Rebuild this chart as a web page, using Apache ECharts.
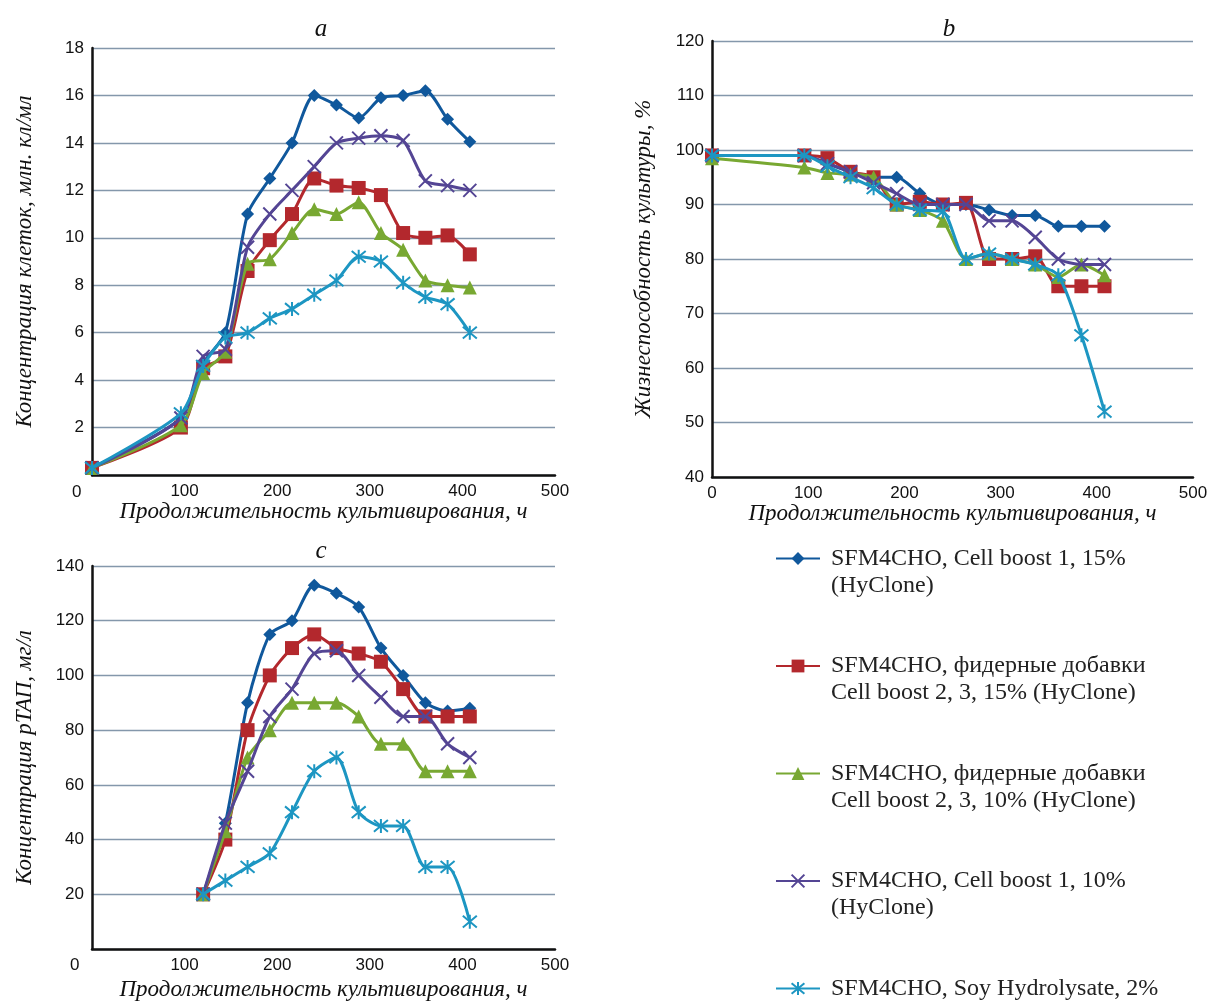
<!DOCTYPE html>
<html>
<head>
<meta charset="utf-8">
<script src="https://cdn.jsdelivr.net/npm/echarts@6/dist/echarts.min.js"></script>
<style>
html,body{margin:0;padding:0;background:#fff}
#chart{width:1219px;height:1003px}
</style>
</head>
<body>
<div id="chart"></div>
<script>
// series names
var names = [
    'SFM4CHO, Cell boost 1, 15%\n(HyClone)',
    'SFM4CHO, фидерные добавки\nCell boost 2, 3, 15% (HyClone)',
    'SFM4CHO, фидерные добавки\nCell boost 2, 3, 10% (HyClone)',
    'SFM4CHO, Cell boost 1, 10%\n(HyClone)',
    'SFM4CHO, Soy Hydrolysate, 2%'
]
var colors = ['#10589c', '#b3282d', '#78a832', '#544594', '#1d96c2']

// hours
var hoursAB = [0, 96, 120, 144, 168, 192, 216, 240, 264, 288, 312, 336, 360, 384, 408]
var hoursC = [120, 144, 168, 192, 216, 240, 264, 288, 312, 336, 360, 384, 408]

// a: cell concentration, mln cells/ml
var cellsBoost1_15 = [0.3, 2.4, 4.7, 6.0, 11.0, 12.5, 14.0, 16.0, 15.6, 15.05, 15.9, 16.0, 16.2, 15.0, 14.05]
var cellsFeed_15 = [0.3, 2.0, 4.5, 5.0, 8.6, 9.9, 11.0, 12.5, 12.2, 12.1, 11.8, 10.2, 10.0, 10.1, 9.3]
var cellsFeed_10 = [0.3, 2.1, 4.3, 5.2, 8.9, 9.1, 10.2, 11.2, 11.0, 11.5, 10.2, 9.5, 8.2, 8.0, 7.9]
var cellsBoost1_10 = [0.3, 2.4, 5.0, 5.3, 9.6, 11.0, 12.0, 13.0, 14.0, 14.2, 14.3, 14.1, 12.4, 12.2, 12.0]
var cellsSoy = [0.3, 2.6, 4.6, 5.8, 6.0, 6.6, 7.0, 7.6, 8.2, 9.2, 9.0, 8.1, 7.5, 7.2, 6.0]

// b: viability, %
var viabBoost1_15 = [99, 99, 97.5, 96, 95, 95, 92, 90, 90, 89, 88, 88, 86, 86, 86]
var viabFeed_15 = [99, 99, 98.5, 96, 95, 90, 90.5, 90, 90.3, 80, 80, 80.5, 75, 75, 75]
var viabFeed_10 = [98.5, 96.8, 95.8, 95.5, 95, 90, 89, 87, 80, 81, 80, 79, 76.7, 79, 77]
var viabBoost1_10 = [99, 99, 97.5, 96, 94, 92, 90, 90, 90, 87, 87, 84, 80, 79, 79]
var viabSoy = [99, 99, 97, 95, 93, 90, 89, 88.7, 80, 81, 80, 79, 77, 66, 52]

// c: rTAP concentration, mg/l
var tapBoost1_15 = [20, 46, 90, 115, 120, 133, 130, 125, 110, 100, 90, 87, 88]
var tapFeed_15 = [20, 40, 80, 100, 110, 115, 110, 108, 105, 95, 85, 85, 85]
var tapFeed_10 = [20, 43, 70, 80, 90, 90, 90, 85, 75, 75, 65, 65, 65]
var tapBoost1_10 = [20, 46, 65, 85, 95, 108, 109, 100, 92, 85, 85, 75, 70]
var tapSoy = [20, 25, 30, 35, 50, 65, 70, 50, 45, 45, 30, 30, 10]

var symbols = [
    'diamond',
    'rect',
    'triangle',
    'path://M0,0L10,10M10,0L0,10',
    'path://M0,0L10,10M10,0L0,10M5,-1L5,11'
]
var symbolSizes = [13, 14, 14, 13, 14]

var serif = '"Liberation Serif", "DejaVu Serif", serif'
var sans = '"Liberation Sans", Arial, sans-serif'

function pairs(xs, ys) {
    return xs.map(function (x, i) { return [x, ys[i]] })
}

function makeSeries(idx, xi, xs, ys) {
    var isCross = idx >= 3
    return {
        name: names[idx],
        type: 'line',
        xAxisIndex: xi,
        yAxisIndex: xi,
        data: pairs(xs, ys),
        smooth: 0.25,
        symbol: symbols[idx],
        symbolSize: symbolSizes[idx],
        showAllSymbol: true,
        lineStyle: { color: colors[idx], width: 3 },
        itemStyle: {
            color: colors[idx],
            borderColor: colors[idx],
            borderWidth: isCross ? 2 : 0
        },
        emphasis: { disabled: true },
        z: 2 + idx
    }
}

function xAxisOf(gi, hideZero, gap) {
    return {
        type: 'value',
        gridIndex: gi,
        min: 0,
        max: 500,
        interval: 100,
        name: 'Продолжительность культивирования, ч',
        nameLocation: 'middle',
        nameGap: gap,
        nameTextStyle: { fontFamily: serif, fontStyle: 'italic', fontSize: 23, color: '#111' },
        axisLine: { onZero: false, lineStyle: { color: '#111', width: 2.5 } },
        axisTick: { show: false },
        splitLine: { show: false },
        axisLabel: {
            fontFamily: sans, fontSize: 17, color: '#111', margin: 8,
            formatter: function (v) { return hideZero && v === 0 ? '' : v }
        }
    }
}

function yAxisOf(gi, min, max, step, name, gap, hideZero) {
    return {
        type: 'value',
        gridIndex: gi,
        min: min,
        max: max,
        interval: step,
        name: name,
        nameLocation: 'middle',
        nameGap: gap,
        nameTextStyle: { fontFamily: serif, fontStyle: 'italic', fontSize: 23, color: '#111' },
        axisLine: { show: true, lineStyle: { color: '#111', width: 2.5 } },
        axisTick: { show: false },
        splitLine: { lineStyle: { color: '#8497ab', width: 1.3 } },
        axisLabel: {
            fontFamily: sans, fontSize: 17, color: '#111', margin: 8,
            formatter: function (v) { return hideZero && v === 0 ? '' : v }
        }
    }
}

var seriesList = []
var cellSets = [cellsBoost1_15, cellsFeed_15, cellsFeed_10, cellsBoost1_10, cellsSoy]
var viabSets = [viabBoost1_15, viabFeed_15, viabFeed_10, viabBoost1_10, viabSoy]
var tapSets = [tapBoost1_15, tapFeed_15, tapFeed_10, tapBoost1_10, tapSoy]
for (var i = 0; i < 5; i++) seriesList.push(makeSeries(i, 0, hoursAB, cellSets[i]))
for (var j = 0; j < 5; j++) seriesList.push(makeSeries(j, 1, hoursAB, viabSets[j]))
for (var k = 0; k < 5; k++) seriesList.push(makeSeries(k, 2, hoursC, tapSets[k]))

var chart = echarts.init(document.getElementById('chart'))
chart.setOption({
    animation: false,
    color: colors,
    title: [
        { text: 'a', left: 316, top: 12, textAlign: 'center', textStyle: { fontFamily: serif, fontStyle: 'italic', fontWeight: 'normal', fontSize: 25, color: '#111' } },
        { text: 'b', left: 944, top: 12, textAlign: 'center', textStyle: { fontFamily: serif, fontStyle: 'italic', fontWeight: 'normal', fontSize: 25, color: '#111' } },
        { text: 'c', left: 316, top: 534, textAlign: 'center', textStyle: { fontFamily: serif, fontStyle: 'italic', fontWeight: 'normal', fontSize: 25, color: '#111' } }
    ],
    grid: [
        { left: 92, top: 48, right: 664, bottom: 528 },
        { left: 712, top: 41, right: 26, bottom: 526 },
        { left: 92, top: 566, right: 664, bottom: 54 }
    ],
    xAxis: [xAxisOf(0, true, 23), xAxisOf(1, false, 23), xAxisOf(2, true, 29)],
    yAxis: [
        yAxisOf(0, 0, 18, 2, 'Концентрация клеток, млн. кл/мл', 56, true),
        yAxisOf(1, 40, 120, 10, 'Жизнеспособность культуры, %', 57, false),
        yAxisOf(2, 0, 140, 20, 'Концентрация рТАП, мг/л', 56, true)
    ],
    legend: {
        orient: 'vertical',
        left: 775,
        top: 518,
        height: 530,
        padding: 0,
        itemWidth: 44,
        itemHeight: 16,
        itemGap: 26.5,
        selectedMode: false,
        data: names,
        // blank first line keeps the icon level with the first text line
        formatter: function (n) {
            return n.indexOf('\n') >= 0 ? '\n' + n : '\n' + n + '\n'
        },
        textStyle: { fontFamily: serif, fontSize: 24, color: '#222', lineHeight: 27, padding: [0, 0, 0, 6] }
    },
    graphic: [
        { type: 'text', left: 72, top: 484, style: { text: '0', font: '17px ' + sans, fill: '#111' } },
        { type: 'text', left: 70, top: 957, style: { text: '0', font: '17px ' + sans, fill: '#111' } }
    ],
    series: seriesList
})
</script>
</body>
</html>
